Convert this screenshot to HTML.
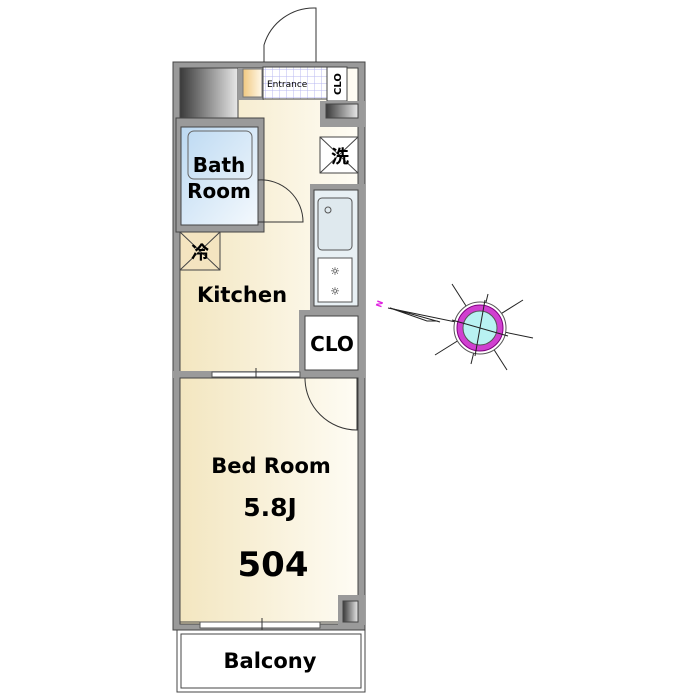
<!DOCTYPE html>
<html><head><meta charset="utf-8"><style>
body{margin:0;background:#fff;}
svg{display:block;font-family:"DejaVu Sans","Liberation Sans","Noto Sans CJK JP",sans-serif;}
</style></head><body>
<svg width="700" height="700" viewBox="0 0 700 700">
<defs>
<linearGradient id="fl" x1="0" x2="1"><stop offset="0" stop-color="#f3e6c0"/><stop offset="1" stop-color="#fefcf4"/></linearGradient>
<linearGradient id="dk" x1="0" x2="1"><stop offset="0" stop-color="#3a3a3a"/><stop offset="1" stop-color="#e8e8e8"/></linearGradient>
<linearGradient id="bl" x1="0" y1="0" x2="1" y2="1"><stop offset="0" stop-color="#bcd9f2"/><stop offset="1" stop-color="#f4f9fd"/></linearGradient>
<linearGradient id="or" x1="0" x2="1"><stop offset="0" stop-color="#f0c880"/><stop offset="1" stop-color="#fff8e8"/></linearGradient>
<pattern id="grid" width="7" height="7" patternUnits="userSpaceOnUse"><rect width="7" height="7" fill="#fff"/><path d="M7 0V7M0 7H7" stroke="#b8b8f0" stroke-width="1"/></pattern>
</defs>
<rect x="173" y="62" width="192" height="568" fill="#9a9a9a" stroke="#444"/>
<rect x="180" y="68" width="178" height="556" fill="url(#fl)" stroke="#444"/>
<rect x="180" y="68" width="58" height="50" fill="url(#dk)" stroke="#444"/>
<rect x="238" y="68" width="26" height="32" fill="#9a9a9a"/>
<rect x="243" y="69" width="19" height="28" fill="url(#or)" stroke="#777"/>
<rect x="263" y="67" width="64" height="32" fill="url(#grid)" stroke="#444"/>
<text x="267" y="87" font-size="9" fill="#000">Entrance</text>
<rect x="327" y="67" width="20" height="34" fill="#fff" stroke="#444"/>
<text x="341" y="84" font-size="10" font-weight="bold" transform="rotate(-90 341 84)" text-anchor="middle">CLO</text>
<rect x="320" y="101" width="45" height="26" fill="#9a9a9a"/>
<rect x="326" y="104" width="32" height="14" fill="url(#dk)" stroke="#444"/>
<path d="M264 62 V45 A52 52 0 0 1 316 8 V62" fill="none" stroke="#333"/>
<rect x="176" y="118" width="88" height="114" fill="#9a9a9a" stroke="#444"/>
<rect x="181" y="127" width="77" height="98" fill="url(#bl)" stroke="#444"/>
<rect x="188" y="131" width="64" height="48" rx="6" fill="none" stroke="#666"/>
<path d="M258 180 A42 42 0 0 1 303 222 L258 222" fill="none" stroke="#333"/>
<text x="219" y="172" font-size="20" font-weight="bold" text-anchor="middle">Bath</text>
<text x="219" y="198" font-size="20" font-weight="bold" text-anchor="middle">Room</text>
<rect x="180" y="232" width="40" height="38" fill="#f4e4c0" stroke="#444"/>
<path d="M180 232L220 270M220 232L180 270" stroke="#444"/>
<text x="200" y="259" font-size="18" font-weight="bold" text-anchor="middle" font-family="Noto Sans CJK JP,sans-serif">冷</text>
<rect x="320" y="137" width="38" height="36" fill="#fff" stroke="#444"/>
<path d="M320 137L358 173M358 137L320 173" stroke="#444"/>
<text x="340" y="163" font-size="18" font-weight="bold" text-anchor="middle" font-family="Noto Sans CJK JP,sans-serif">洗</text>
<rect x="310" y="184" width="55" height="126" fill="#9a9a9a"/>
<rect x="314" y="190" width="44" height="116" fill="#e8f0f4" stroke="#444"/>
<rect x="318" y="198" width="34" height="52" rx="4" fill="#dfe9ee" stroke="#555"/>
<circle cx="328" cy="210" r="3" fill="none" stroke="#555"/>
<rect x="318" y="258" width="34" height="44" fill="#fff" stroke="#555"/>
<text x="335" y="275" font-size="11" text-anchor="middle">☼</text>
<text x="335" y="295" font-size="11" text-anchor="middle">☼</text>
<text x="242" y="302" font-size="21" font-weight="bold" text-anchor="middle">Kitchen</text>
<rect x="299" y="310" width="66" height="68" fill="#9a9a9a"/>
<rect x="305" y="316" width="53" height="54" fill="#fff" stroke="#444"/>
<text x="332" y="351" font-size="20" font-weight="bold" text-anchor="middle">CLO</text>
<rect x="173" y="371" width="192" height="7" fill="#9a9a9a"/>
<rect x="212" y="372" width="88" height="5" fill="#fff" stroke="#555"/>
<line x1="256" y1="368" x2="256" y2="381" stroke="#333"/>
<rect x="180" y="378" width="178" height="244" fill="url(#fl)" stroke="#444"/>
<path d="M305 378 A52 52 0 0 0 357 430 V378" fill="none" stroke="#333"/>
<text x="271" y="473" font-size="21" font-weight="bold" text-anchor="middle">Bed Room</text>
<text x="270" y="516" font-size="25" font-weight="bold" text-anchor="middle">5.8J</text>
<text x="273" y="576" font-size="34" font-weight="bold" text-anchor="middle">504</text>
<rect x="338" y="595" width="27" height="30" fill="#9a9a9a"/>
<rect x="343" y="601" width="15" height="21" fill="url(#dk)" stroke="#444"/>
<rect x="200" y="622" width="120" height="6" fill="#fff" stroke="#555"/>
<line x1="262" y1="618" x2="262" y2="632" stroke="#333"/>
<rect x="177" y="630" width="188" height="62" fill="#fff" stroke="#444"/>
<rect x="181" y="634" width="180" height="54" fill="#fff" stroke="#444"/>
<text x="270" y="668" font-size="21" font-weight="bold" text-anchor="middle">Balcony</text>
<g stroke="#222" stroke-width="1">
<line x1="388" y1="308" x2="533" y2="338"/>
<path d="M390 308 L440 322 L437 321 L427 321 Z" fill="none"/>
<line x1="452" y1="284" x2="507" y2="370"/>
<line x1="488" y1="294" x2="471" y2="364"/>
<line x1="523" y1="300" x2="435" y2="355"/>
<circle cx="480" cy="328" r="26" fill="#fff" stroke="#555"/>
<circle cx="480" cy="328" r="23" fill="#d040d0" stroke="#800080"/>
<circle cx="480" cy="328" r="17" fill="#b8f2f2" stroke="#555"/>
<line x1="452" y1="320" x2="508" y2="336"/>
<line x1="485" y1="300" x2="475" y2="356"/>
</g>
<text x="381" y="308" font-size="8" fill="#e020e0" font-weight="bold" transform="rotate(-70 381 308)">N</text>
</svg>
</body></html>
